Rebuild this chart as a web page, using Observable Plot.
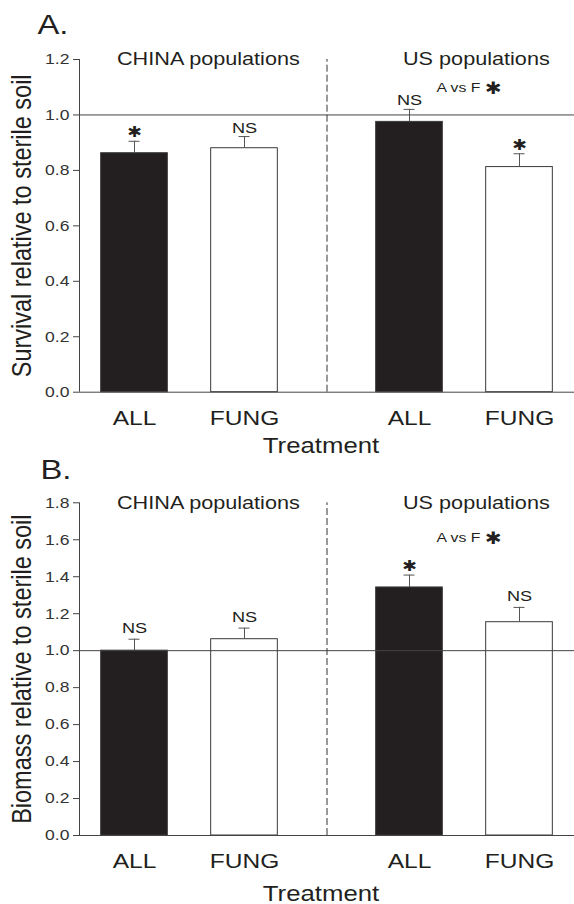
<!DOCTYPE html>
<html><head><meta charset="utf-8">
<script src="https://cdn.jsdelivr.net/npm/d3@7"></script>
<script src="https://cdn.jsdelivr.net/npm/@observablehq/plot@0.6"></script>
<style>
body{margin:0;background:#fff;}
#chart svg{display:block;overflow:visible;}
</style></head><body><div id="chart"></div>
<script>
// ---- data ----
const populations = ["CHINA", "US"];
const treatments = ["ALL", "FUNG"];
const groupLabels = ["CHINA populations", "US populations"];
const contrastLabel = "A vs F";

const survivalMean = [0.862, 0.880, 0.975, 0.812];
const survivalSE   = [0.043, 0.042, 0.045, 0.048];
const survivalSig  = ["*", "NS", "NS", "*"];
const survivalTicks = [0.0, 0.2, 0.4, 0.6, 0.8, 1.0, 1.2];

const biomassMean = [1.000, 1.062, 1.342, 1.154];
const biomassSE   = [0.062, 0.060, 0.067, 0.080];
const biomassSig  = ["NS", "NS", "*", "NS"];
const biomassTicks = [0.0, 0.2, 0.4, 0.6, 0.8, 1.0, 1.2, 1.4, 1.6, 1.8];

// ---- layout / style ----
const FONT = "Liberation Sans, Arial, Helvetica, sans-serif";
const STAR_FONT = "DejaVu Sans, sans-serif";
const INK = "#231f20";
const LINE = "#444";
const TEXT_STRETCH = 1.17;   // reference glyphs are drawn horizontally wider
const GROUP_GAP = 1.5;       // distance (in bar slots) between the two population groups

function panel(o) {
  const rows = [];
  populations.forEach((p, g) => treatments.forEach((t, k) => {
    const i = g * treatments.length + k;
    rows.push({pop: p, treat: t, slot: 1 + i + (g > 0 ? GROUP_GAP - 1 : 0),
               mean: o.means[i], se: o.ses[i], sig: o.sigs[i]});
  }));
  const yMax = o.ticks[o.ticks.length - 1];
  const xDomain = [rows[0].slot - 0.5, rows[rows.length - 1].slot + 0.5];
  const divider = (rows[1].slot + rows[2].slot) / 2;
  const groupFirst = populations.map(p => rows.find(r => r.pop === p).slot);
  const groupMid = populations.map(p => d3.mean(rows.filter(r => r.pop === p), r => r.slot));
  const half = 0.303, cap = 0.05;
  const slotLabel = new Map(rows.map(r => [r.slot, r.treat]));

  const svg = Plot.plot({
    width: 574, height: o.height,
    marginLeft: 79, marginRight: 0, marginTop: o.marginTop, marginBottom: o.marginBottom,
    style: {fontFamily: FONT, color: INK, background: "#fff", overflow: "visible"},
    x: {domain: xDomain, axis: null},
    y: {domain: [0, yMax], axis: null},
    marks: [
      Plot.rect(rows, {x1: r => r.slot - half, x2: r => r.slot + half, y1: 0, y2: "mean",
        fill: r => r.treat === treatments[0] ? INK : "#fff", stroke: "#3a3a3a", strokeWidth: 1}),
      Plot.ruleX(rows, {x: "slot", y1: "mean", y2: r => r.mean + r.se, stroke: "#555"}),
      Plot.ruleY(rows, {y: r => r.mean + r.se, x1: r => r.slot - cap, x2: r => r.slot + cap, stroke: "#555"}),
      Plot.ruleY([1], {stroke: LINE}),
      Plot.ruleY([0], {stroke: LINE}),
      Plot.ruleX([xDomain[0]], {y1: 0, y2: yMax, stroke: LINE}),
      Plot.ruleX([divider], {y1: 0, y2: yMax, stroke: "#333", strokeDasharray: "7,3"}),
      Plot.axisY({ticks: o.ticks, tickFormat: d => d.toFixed(1), tickSize: 6, tickPadding: 4,
        fontSize: 15, stroke: LINE, fill: "#333", label: null}),
      Plot.axisX({ticks: rows.map(r => r.slot), tickFormat: d => slotLabel.get(d), tickSize: 0,
        tickPadding: 18, fontSize: 21, fill: INK, label: null}),
      // significance labels
      Plot.text(rows.filter(r => r.sig !== "*"), {x: "slot", y: r => r.mean + r.se, text: "sig",
        lineAnchor: "bottom", dy: o.nsDy, fontSize: 15.5, fill: INK}),
      Plot.text(rows.filter(r => r.sig === "*"), {x: "slot", y: r => r.mean + r.se, text: () => "\u2731",
        lineAnchor: "middle", dy: -9, fontSize: 15, fontFamily: STAR_FONT, fill: INK}),
      // group titles
      Plot.text([groupLabels[0]], {x: () => groupFirst[0], frameAnchor: "top", textAnchor: "start",
        lineAnchor: "middle", dx: -17.5, dy: o.groupDy, fontSize: 18.5, fill: INK}),
      Plot.text([groupLabels[1]], {x: () => groupFirst[1], frameAnchor: "top", textAnchor: "start",
        lineAnchor: "middle", dx: -6.5, dy: o.groupDy, fontSize: 18.5, fill: INK}),
      // contrast annotation
      Plot.text([contrastLabel], {x: () => groupMid[1], frameAnchor: "top", textAnchor: "start",
        lineAnchor: "middle", dx: -28, dy: o.avfDy, fontSize: 13.5, fill: INK}),
      Plot.text(["\u2731"], {x: () => groupMid[1], frameAnchor: "top", textAnchor: "middle",
        lineAnchor: "middle", dx: 28.5, dy: o.avfDy + 1, fontSize: 17, fontFamily: STAR_FONT, fill: INK}),
      // panel letter, y label, x label
      Plot.text([o.letter], {frameAnchor: "top-left", textAnchor: "start", lineAnchor: "middle",
        dx: o.letterDx, dy: o.letterDy, fontSize: 28, fill: INK}),
      Plot.text([o.yLabel], {frameAnchor: "left", rotate: -90, textAnchor: "middle", lineAnchor: "middle",
        dx: -57, fontSize: 23.5, fill: INK}),
      Plot.text(["Treatment"], {frameAnchor: "bottom", textAnchor: "middle", lineAnchor: "middle",
        dx: -6, dy: o.treatDy, fontSize: 22, fill: INK})
    ]
  });
  // stretch glyphs horizontally around their anchor, as in the reference
  svg.querySelectorAll("text").forEach(t => {
    const tr = t.getAttribute("transform") || "";
    const m = tr.match(/translate\(\s*([-\d.e]+)[,\s]+([-\d.e]+)\s*\)/);
    let px, py;
    if (m) { px = +m[1]; py = +m[2]; }
    else { px = +(t.getAttribute("x") || 0); py = +(t.getAttribute("y") || 0); }
    t.setAttribute("transform", `translate(${px},${py}) scale(${TEXT_STRETCH},1) translate(${-px},${-py}) ${tr}`);
  });
  return svg;
}

const chart = document.getElementById("chart");
chart.append(panel({
  letter: "A.", yLabel: "Survival relative to sterile soil",
  means: survivalMean, ses: survivalSE, sigs: survivalSig, ticks: survivalTicks,
  height: 458, marginTop: 59, marginBottom: 66.3,
  nsDy: -4, groupDy: 0, avfDy: 28, letterDx: -42, letterDy: -34, treatDy: 54
}));
chart.append(panel({
  letter: "B.", yLabel: "Biomass relative to sterile soil",
  means: biomassMean, ses: biomassSE, sigs: biomassSig, ticks: biomassTicks,
  height: 446, marginTop: 44.3, marginBottom: 69,
  nsDy: -6, groupDy: 0, avfDy: 35, letterDx: -39, letterDy: -33, treatDy: 58
}));
</script></body></html>
